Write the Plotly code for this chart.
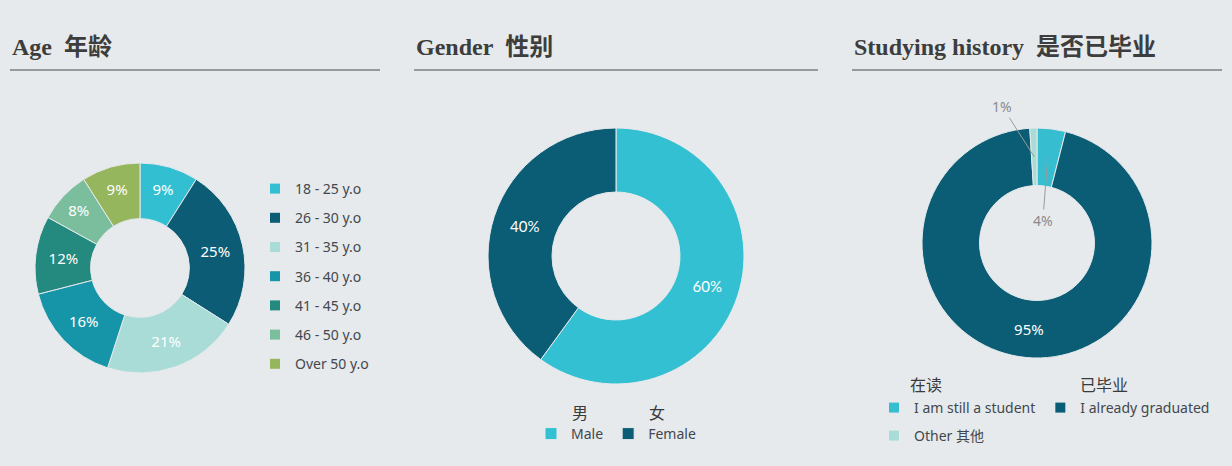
import math
import plotly.graph_objects as go

W, H = 1232, 466
BG = "#E6EAEC"
TXT = "#42484d"

# ---- data ----
age_groups = ["18 - 25 y.o", "26 - 30 y.o", "31 - 35 y.o", "36 - 40 y.o",
              "41 - 45 y.o", "46 - 50 y.o", "Over 50 y.o"]
age_share = [9, 25, 21, 16, 12, 8, 9]
age_colors = ["#33BFD2", "#0C5C75", "#A9DCD7", "#1795A8",
              "#24897E", "#7BBE9E", "#95B65C"]

gender_labels = ["Male", "Female"]
gender_cn = ["男", "女"]
gender_share = [60, 40]
gender_colors = ["#33C0D2", "#0B5D75"]

study_labels = ["I am still a student", "I already graduated", "Other 其他"]
study_cn = ["在读", "已毕业"]
study_share = [4, 95, 1]
study_colors = ["#36BDD0", "#0B5D75", "#A9DCD7"]

titles = ["Age\u00a0\u00a0年龄", "Gender\u00a0\u00a0性别", "Studying history\u00a0\u00a0是否已毕业"]


def dom(x0, x1, y0, y1):
    # pixel box -> paper domain
    return dict(x=[x0 / W, x1 / W], y=[1 - y1 / H, 1 - y0 / H])


age_dom = dom(35, 245, 163, 373)
gender_dom = dom(488, 744, 128, 384)
study_dom = dom(922, 1152, 128, 358)

fig = go.Figure()

fig.add_trace(go.Pie(
    labels=age_groups,
    values=age_share,
    sort=False, direction="clockwise", rotation=0, hole=0.47,
    marker=dict(colors=age_colors, line=dict(color=BG, width=1)),
    texttemplate="%{percent:.0%}", textposition="inside",
    insidetextorientation="horizontal",
    textfont=dict(color="white", size=15, family="Noto Sans"),
    domain=age_dom, showlegend=False,
))

fig.add_trace(go.Pie(
    labels=gender_labels,
    values=gender_share,
    sort=False, direction="clockwise", rotation=0, hole=0.5,
    marker=dict(colors=gender_colors, line=dict(color=BG, width=1)),
    texttemplate="%{percent:.0%}", textposition="inside",
    insidetextorientation="horizontal",
    textfont=dict(color="white", size=15, family="Lato"),
    domain=gender_dom, legend="legend2",
))

fig.add_trace(go.Pie(
    labels=study_labels,
    values=study_share,
    sort=False, direction="clockwise", rotation=0, hole=0.5,
    marker=dict(colors=study_colors, line=dict(color=BG, width=1)),
    texttemplate=["", "%{percent:.0%}", ""], textposition="inside",
    insidetextorientation="horizontal",
    textfont=dict(color="white", size=15, family="Noto Sans"),
    domain=study_dom, showlegend=False,
))

# legend entries: age (one group per row, for the row gap)
for name, col in zip(age_groups, age_colors):
    fig.add_trace(go.Scatter(
        x=[None], y=[None], mode="markers", name=name,
        marker=dict(symbol="square", size=10, color=col),
        legend="legend", legendgroup=name, hoverinfo="skip",
    ))

# legend entries: studying (two on the first row, one below)
for i, (name, col) in enumerate(zip(study_labels, study_colors)):
    fig.add_trace(go.Scatter(
        x=[None], y=[None], mode="markers", name=name,
        marker=dict(symbol="square", size=10, color=col),
        legend="legend4" if i == 2 else "legend3", hoverinfo="skip",
    ))

# small-slice labels with leader lines
sx0, sx1 = study_dom["x"][0] * W, study_dom["x"][1] * W
sy0, sy1 = (1 - study_dom["y"][1]) * H, (1 - study_dom["y"][0]) * H
scx, scy = (sx0 + sx1) / 2, (sy0 + sy1) / 2
R = min(sx1 - sx0, sy1 - sy0) / 2
tot = sum(study_share)
cum = 0
mids = []
for v in study_share:
    mids.append((cum + v / 2) / tot)
    cum += v
offsets = {0: (-5, 63), 2: (-32, -50)}
for i, (ax, ay) in offsets.items():
    th = 2 * math.pi * mids[i]
    px = scx + 0.75 * R * math.sin(th)
    py = scy - 0.75 * R * math.cos(th)
    fig.add_annotation(
        x=px / W, y=1 - py / H, xref="paper", yref="paper",
        text="%d%%" % study_share[i], showarrow=True, arrowhead=0,
        arrowwidth=1, arrowcolor="#9a9a9a", ax=ax, ay=ay, standoff=0,
        font=dict(size=14, color="#8a8a8a", family="Noto Sans"),
    )

# section titles and rules
title_x = [10, 414, 852]
rule_x = [(10, 380), (414, 818), (852, 1222)]
for t, tx, (r0, r1) in zip(titles, title_x, rule_x):
    fig.add_annotation(
        x=tx / W, y=1 - 47 / H, xref="paper", yref="paper",
        xanchor="left", yanchor="middle", showarrow=False,
        text="<b>%s</b>" % t,
        font=dict(size=24, color="#3d3d3d", family="Liberation Serif, Noto Sans CJK SC"),
    )
    fig.add_shape(type="line", xref="paper", yref="paper",
                  x0=r0 / W, x1=r1 / W, y0=1 - 70 / H, y1=1 - 70 / H,
                  line=dict(color="#7d7d7d", width=1.5))

# chinese captions above legend entries (left aligned with the text)
cn_font = dict(size=16, color="#3a3a3a", family="Noto Sans CJK SC")
for t, x in zip(gender_cn, [570, 647]):
    fig.add_annotation(x=x / W, y=1 - 412 / H, xref="paper", yref="paper",
                       xanchor="left", yanchor="middle", text=t,
                       showarrow=False, font=cn_font)
for t, x in zip(study_cn, [908, 1078]):
    fig.add_annotation(x=x / W, y=1 - 384 / H, xref="paper", yref="paper",
                       xanchor="left", yanchor="middle", text=t,
                       showarrow=False, font=cn_font)

leg_font = dict(size=14, color=TXT, family="Noto Sans, Noto Sans CJK SC")
clear = "rgba(0,0,0,0)"
fig.update_layout(
    width=W, height=H,
    margin=dict(l=0, r=0, t=0, b=0),
    paper_bgcolor=BG, plot_bgcolor=BG,
    xaxis=dict(visible=False), yaxis=dict(visible=False),
    legend=dict(x=255 / W, y=1 - 173 / H, xanchor="left", yanchor="top",
                orientation="v", traceorder="grouped", tracegroupgap=8,
                font=leg_font, bgcolor=clear),
    legend2=dict(x=0.5, y=1 - 434 / H, xanchor="center", yanchor="middle",
                 orientation="h", font=leg_font, bgcolor=clear),
    legend3=dict(x=874 / W, y=1 - 408 / H, xanchor="left", yanchor="middle",
                 orientation="h", font=leg_font, bgcolor=clear),
    legend4=dict(x=874 / W, y=1 - 436 / H, xanchor="left", yanchor="middle",
                 orientation="h", font=leg_font, bgcolor=clear),
)

fig.write_html("out.html", config={"displayModeBar": False},
               post_script="document.body.style.margin='0';")
